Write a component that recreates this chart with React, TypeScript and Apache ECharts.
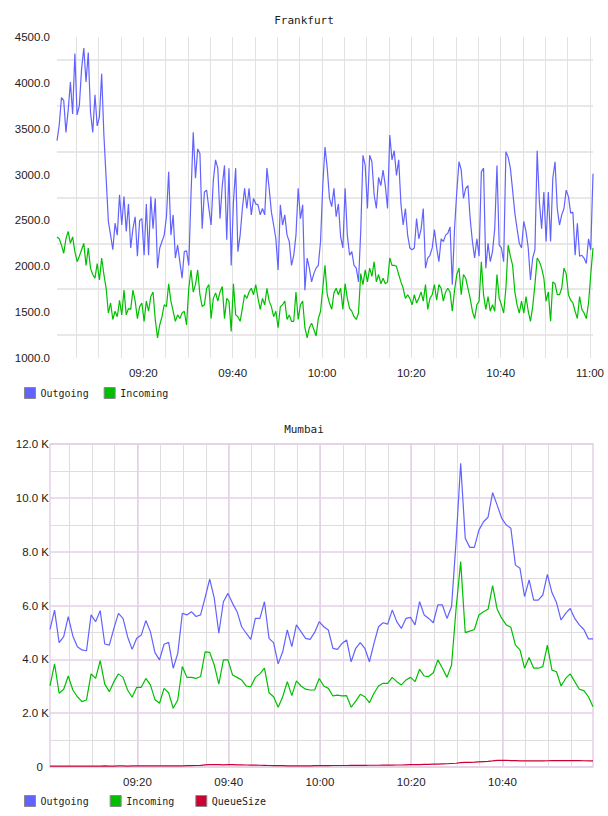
import React, { useEffect, useRef } from 'react';
import * as echarts from 'echarts';

// ---------- Frankfurt (30 s samples, 09:00:40 – 11:00:40) ----------
const FRANK_START = new Date(2024, 0, 15, 9, 0, 40).getTime();
const FRANK_STEP_MS = 30000;

const FRANK_OUTGOING = [
  3370, 3540, 3840, 3810, 3460, 3700, 4010, 3660, 4320, 3650,
  3750, 4150, 4380, 4010, 4330, 3680, 3460, 3870, 3530, 3630,
  4100, 3430, 2960, 2490, 2340, 2180, 2470, 2340, 2780, 2450,
  2760, 2380, 2680, 2200, 2410, 2540, 2110, 2500, 2520, 2120,
  2680, 2120, 2760, 2410, 2740, 1980, 2200, 2270, 2340, 2540,
  3030, 2340, 2560, 2090, 2230, 2050, 1870, 2160, 2170, 2010,
  2780, 3460, 2960, 3280, 3230, 2410, 2810, 2830, 2630, 2450,
  2940, 3160, 3070, 2520, 2880, 3100, 2290, 3070, 2010, 2700,
  3070, 2160, 2340, 2630, 2850, 2630, 2850, 2560, 2740, 2680,
  2670, 2560, 2630, 2560, 3070, 2850, 2590, 2450, 2300, 1960,
  2670, 2450, 2560, 2340, 2270, 2010, 2120, 2340, 2850, 2520,
  2670, 1740, 2090, 1980, 1830, 1920, 1980, 2010, 2270, 2880,
  3300, 3070, 2740, 2650, 2850, 2540, 2680, 2320, 2200, 2850,
  2340, 2120, 2160, 2010, 1980, 1830, 2380, 3210, 3100, 2630,
  3210, 3140, 2780, 2630, 2970, 2880, 3050, 2880, 2630, 3430,
  3160, 3260, 2990, 3160, 2680, 2450, 2630, 2340, 2200, 2180,
  2200, 2520, 2300, 2400, 2630, 1980, 2090, 2120, 2200, 2400,
  2200, 2050, 2300, 2270, 2340, 2360, 2430, 1800, 2410, 2810,
  3140, 3050, 2740, 2850, 2880, 2520, 2270, 2090, 2300, 2110,
  3030, 3070, 1980, 2250, 2050, 2160, 2410, 3100, 2230, 2200,
  2050, 3250, 3190, 3070, 2830, 2580, 2410, 2250, 2200, 2490,
  2380, 2200, 1850, 2090, 2180, 3260, 2700, 2410, 2810, 2270,
  2810, 2270, 2960, 3140, 2630, 2450, 2560, 2630, 2830, 2760,
  2580, 2590, 2120, 2470, 2110, 2120, 2090, 2030, 2300, 2180,
  3010,
];

const FRANK_INCOMING = [
  2320, 2300, 2230, 2140, 2300, 2380, 2250, 2320, 2160, 2050,
  2110, 2180, 2250, 2010, 2200, 1980, 1910, 1870, 2030, 1850,
  2090, 1910, 1760, 1490, 1600, 1420, 1510, 1450, 1630, 1470,
  1740, 1470, 1540, 1530, 1740, 1620, 1430, 1560, 1600, 1400,
  1620, 1510, 1670, 1720, 1420, 1220, 1360, 1450, 1580, 1560,
  1810, 1620, 1510, 1400, 1470, 1430, 1490, 1510, 1360, 1760,
  1960, 1720, 1800, 1960, 1690, 1560, 1580, 1760, 1800, 1430,
  1650, 1710, 1620, 1720, 1780, 1430, 1650, 1620, 1290, 1810,
  1470, 1450, 1400, 1540, 1690, 1650, 1720, 1760, 1690, 1800,
  1650, 1530, 1650, 1580, 1760, 1620, 1560, 1450, 1510, 1330,
  1560, 1580, 1620, 1420, 1470, 1400, 1400, 1720, 1420, 1580,
  1620, 1330, 1220, 1330, 1380, 1310, 1240, 1430, 1510, 1760,
  2010, 1690, 1600, 1530, 1710, 1760, 1690, 1760, 1530, 1810,
  1650, 1540, 1510, 1450, 1420, 1490, 1920, 1800, 1960, 1830,
  1980, 1890, 2050, 1830, 1910, 1810, 1870, 1810, 1830, 2090,
  2010, 2010, 2000, 1910, 1830, 1760, 1650, 1690, 1650, 1580,
  1690, 1600, 1650, 1720, 1620, 1800, 1530, 1650, 1690, 1800,
  1630, 1800, 1760, 1620, 1720, 1760, 1720, 1510, 1740, 1910,
  1980, 1690, 1910, 1870, 1760, 1650, 1510, 1430, 1580, 1620,
  2050, 1690, 1530, 1670, 1510, 1580, 1510, 1910, 1650, 1580,
  1490, 1760, 2230, 2110, 2010, 1720, 1580, 1490, 1620, 1490,
  1670, 1510, 1400, 1560, 1800, 2090, 2050, 1980, 1870, 1620,
  1720, 1400, 1830, 1810, 1690, 1690, 1760, 1980, 1920, 1690,
  1630, 1600, 1510, 1430, 1670, 1530, 1490, 1430, 1600, 1910,
  2200,
];

// ---------- Mumbai (1 min samples, 09:00:50 – 10:59:50) ----------
const MUMBAI_START = new Date(2024, 0, 15, 9, 0, 50).getTime();
const MUMBAI_STEP_MS = 60000;

const MUMBAI_OUTGOING = [
  5110, 5830, 4620, 4840, 5590, 4870, 4470, 4350, 4320, 5650,
  5400, 5810, 4570, 4530, 5150, 5710, 5520, 4840, 4370, 4780,
  4900, 5440, 5030, 4250, 3980, 4560, 4630, 3670, 4220, 5710,
  5650, 5770, 5590, 5650, 6300, 6980, 6270, 4970, 6140, 6450,
  6080, 5770, 5210, 4970, 4740, 5520, 5520, 6140, 4780, 4620,
  3830, 4280, 5090, 4470, 5280, 5030, 4780, 4740, 5000, 5400,
  5210, 5090, 4410, 4370, 4590, 4720, 3910, 4410, 4620, 4410,
  3910, 4590, 5210, 5360, 5310, 5830, 5400, 5150, 5520, 5560,
  5280, 6140, 5650, 5520, 5360, 6020, 6020, 5520, 5960, 8400,
  11280, 8500, 8160, 8160, 8800, 9110, 9280, 10190, 9730, 9240,
  8990, 8870, 7500, 7380, 6330, 6950, 6200, 6200, 6390, 7160,
  6480, 6110, 5460, 5710, 5890, 5520, 5280, 5110, 4760, 4760,
];

const MUMBAI_INCOMING = [
  3010, 3830, 2740, 2890, 3380, 2860, 2610, 2430, 2490, 3460,
  3290, 3950, 3080, 2800, 3170, 3460, 3330, 2860, 2590, 2960,
  2960, 3290, 3050, 2510, 2370, 2920, 2760, 2180, 2490, 3730,
  3330, 3330, 3290, 3360, 4280, 4260, 3790, 3080, 3980, 3980,
  3420, 3330, 3230, 3010, 2980, 3330, 3460, 3670, 2760, 2610,
  2220, 2610, 3170, 2650, 3200, 3010, 2890, 2860, 2860, 3290,
  3010, 2920, 2640, 2670, 2640, 2650, 2220, 2450, 2700, 2610,
  2390, 2740, 3010, 3110, 3110, 3330, 3170, 3050, 3230, 3330,
  3170, 3630, 3380, 3360, 3500, 3980, 3670, 3330, 3790, 5900,
  7630, 4990, 5050, 5110, 5650, 5770, 5860, 6740, 5860, 5520,
  5280, 5190, 4530, 4350, 3670, 4070, 3670, 3670, 3730, 4530,
  3600, 3540, 3010, 3290, 3460, 3170, 2890, 2840, 2610, 2240,
];

const MUMBAI_QUEUE = [
  30, 30, 35, 30, 30, 35, 35, 30, 35, 35,
  35, 35, 40, 35, 35, 40, 40, 35, 40, 40,
  40, 40, 45, 40, 40, 45, 45, 40, 45, 45,
  50, 50, 55, 60, 80, 90, 90, 85, 80, 85,
  85, 80, 80, 75, 70, 70, 65, 60, 55, 50,
  50, 50, 45, 45, 45, 45, 45, 45, 50, 50,
  50, 50, 55, 55, 55, 55, 60, 60, 60, 60,
  65, 65, 65, 70, 70, 70, 75, 75, 80, 85,
  85, 90, 95, 100, 105, 110, 115, 120, 130, 140,
  165, 170, 175, 180, 190, 200, 210, 225, 245, 250,
  245, 240, 235, 230, 225, 225, 225, 228, 230, 232,
  235, 238, 240, 240, 240, 238, 235, 232, 230, 230,
];

// ---------- axis ticks / labels ----------
const FRANK_Y_MIN = 1000;
const FRANK_Y_MAX = 4500;
const FRANK_Y_STEP = 500;
const MUMBAI_Y_MIN = 0;
const MUMBAI_Y_MAX = 12000;
const MUMBAI_Y_STEP = 2000;
const X_LABELS = ['09:20', '09:40', '10:00', '10:20', '10:40', '11:00'];

const BLUE = '#6262ff';
const GREEN = '#00bf00';
const RED = '#cc0033';
const PINK = '#e6cfe6';
const GRAY_V = '#e2e2e2';
const MONO = '"DejaVu Sans Mono", monospace';
const SANS = '"Liberation Sans", Arial, sans-serif';

const pad = (n: number) => String(n).padStart(2, '0');
const timeLabel = (v: number) => {
  const d = new Date(v);
  if (d.getSeconds() !== 0) return '';
  const s = pad(d.getHours()) + ':' + pad(d.getMinutes());
  return X_LABELS.includes(s) ? s : '';
};

const toPairs = (vals: number[], start: number, step: number) =>
  vals.map((v, i) => [start + i * step, v]);

export default function App() {
  const ref = useRef<HTMLDivElement>(null);

  useEffect(() => {
    if (!ref.current) return;
    const chart = echarts.init(ref.current, undefined, { renderer: 'svg' });

    const frankEnd = FRANK_START + (FRANK_OUTGOING.length - 1) * FRANK_STEP_MS;
    const mumbaiEnd = MUMBAI_START + (MUMBAI_OUTGOING.length - 1) * MUMBAI_STEP_MS;

    const labelStyle = { fontFamily: SANS, fontSize: 11.5, color: '#222' };
    const line = (name: string, data: any, color: string, xi: number, yi: number) => ({
      type: 'line',
      name,
      data,
      xAxisIndex: xi,
      yAxisIndex: yi,
      showSymbol: false,
      symbol: 'none',
      color,
      itemStyle: { color },
      lineStyle: { color, width: 1.2 },
      emphasis: { disabled: true },
      silent: true,
    });
    const legendBase = {
      left: 24,
      padding: 0,
      itemWidth: 11,
      itemHeight: 11,
      icon: 'rect',
      selectedMode: false,
      itemStyle: { borderColor: '#8a8a8a', borderWidth: 1 },
      textStyle: { fontFamily: MONO, fontSize: 10, color: '#222' },
    };
    const titleStyle = { fontFamily: MONO, fontSize: 11, fontWeight: 'normal', color: '#222' };

    chart.setOption({
      animation: false,
      backgroundColor: '#ffffff',
      title: [
        { text: 'Frankfurt', left: 'center', top: 15, padding: 0, textStyle: titleStyle },
        { text: 'Mumbai', left: 'center', top: 424, padding: 0, textStyle: titleStyle },
      ],
      legend: [
        { ...legendBase, top: 387, itemGap: 15, data: ['Outgoing', 'Incoming'] },
        { ...legendBase, top: 795, itemGap: 21, data: ['Outgoing', 'Incoming', 'QueueSize'] },
      ],
      grid: [
        { left: 57, top: 37, width: 536, height: 321, show: false, outerBoundsMode: 'none' },
        {
          left: 50, top: 444, width: 543, height: 323, show: true,
          borderColor: PINK, borderWidth: 1.5, backgroundColor: 'transparent', outerBoundsMode: 'none',
        },
      ],
      xAxis: [
        {
          type: 'time', gridIndex: 0, min: FRANK_START, max: frankEnd,
          splitNumber: 20, minInterval: 330000, maxInterval: 330000,
          axisLine: { show: false }, axisTick: { show: false },
          axisLabel: { ...labelStyle, formatter: timeLabel, margin: 9, showMinLabel: false, showMaxLabel: false },
          splitLine: { show: true, showMinLine: false, showMaxLine: false, lineStyle: { color: GRAY_V, width: 1 } },
        },
        {
          type: 'time', gridIndex: 1, position: 'top', min: MUMBAI_START, max: mumbaiEnd,
          splitNumber: 20, minInterval: 330000, maxInterval: 330000,
          axisLine: { show: false }, axisTick: { show: false }, axisLabel: { show: false },
          splitLine: { show: true, showMinLine: false, showMaxLine: false, lineStyle: { color: '#dedede', width: 1 } },
        },
        {
          type: 'time', gridIndex: 1, position: 'bottom', min: MUMBAI_START, max: mumbaiEnd,
          splitNumber: 6, minInterval: 21 * 60000, maxInterval: 21 * 60000,
          axisLine: { show: false }, axisTick: { show: false },
          axisLabel: { ...labelStyle, formatter: timeLabel, margin: 9, showMinLabel: false, showMaxLabel: false },
          splitLine: { show: true, showMinLine: false, showMaxLine: false, lineStyle: { color: PINK, width: 1.5 } },
        },
      ],
      yAxis: [
        {
          type: 'value', gridIndex: 0, min: FRANK_Y_MIN, max: FRANK_Y_MAX, interval: FRANK_Y_STEP,
          axisLine: { show: false }, axisTick: { show: false },
          axisLabel: { ...labelStyle, margin: 7, formatter: (v: number) => v.toFixed(1) },
          splitLine: { show: false },
          minorTick: { show: false, splitNumber: 2 },
          minorSplitLine: { show: true, lineStyle: { color: '#e8e8e8', width: 2 } },
        },
        {
          type: 'value', gridIndex: 1, min: MUMBAI_Y_MIN, max: MUMBAI_Y_MAX, interval: MUMBAI_Y_STEP,
          axisLine: { show: false }, axisTick: { show: false },
          axisLabel: {
            ...labelStyle, margin: 1,
            formatter: (v: number) => (v === 0 ? '{z|0}' : (v / 1000).toFixed(1) + ' K'),
            rich: { z: { ...labelStyle, padding: [0, 6, 0, 0] } },
          },
          splitLine: { show: true, lineStyle: { color: PINK, width: 1.5 } },
          minorTick: { show: false, splitNumber: 2 },
          minorSplitLine: { show: true, lineStyle: { color: '#dedede', width: 1 } },
        },
      ],
      series: [
        line('Outgoing', toPairs(FRANK_OUTGOING, FRANK_START, FRANK_STEP_MS), BLUE, 0, 0),
        line('Incoming', toPairs(FRANK_INCOMING, FRANK_START, FRANK_STEP_MS), GREEN, 0, 0),
        line('Outgoing', toPairs(MUMBAI_OUTGOING, MUMBAI_START, MUMBAI_STEP_MS), BLUE, 2, 1),
        line('Incoming', toPairs(MUMBAI_INCOMING, MUMBAI_START, MUMBAI_STEP_MS), GREEN, 2, 1),
        line('QueueSize', toPairs(MUMBAI_QUEUE, MUMBAI_START, MUMBAI_STEP_MS), RED, 2, 1),
      ],
    });

    return () => chart.dispose();
  }, []);

  return (
    <div
      ref={ref}
      style={{ position: 'fixed', left: 0, top: 0, width: 608, height: 816, background: '#fff' }}
    />
  );
}
